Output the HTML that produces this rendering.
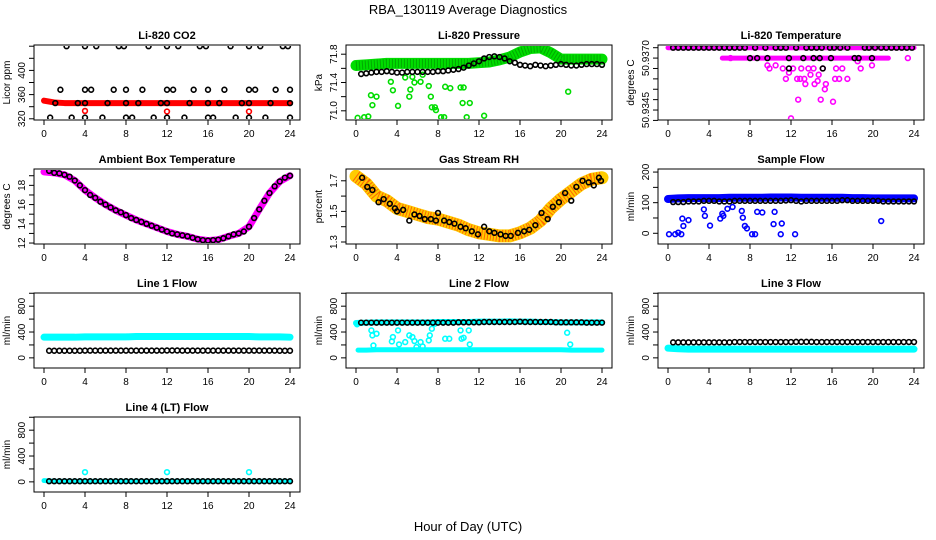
<!DOCTYPE html>
<html><head><meta charset="utf-8"><style>
body{margin:0;background:#fff;}
svg{display:block;font-family:"Liberation Sans",sans-serif;}
</style></head><body>
<svg id="chart" width="936" height="540" viewBox="0 0 936 540" xmlns="http://www.w3.org/2000/svg">
<text x="468" y="14" text-anchor="middle" font-size="13">RBA_130119  Average Diagnostics</text>
<text x="468" y="531" text-anchor="middle" font-size="13">Hour of Day (UTC)</text>
</svg>
<script>
// ---------- data ----------
const hours = [0,1,2,3,4,5,6,7,8,9,10,11,12,13,14,15,16,17,18,19,20,21,22,23,24];
const halfHours = [0.5,1,1.5,2,2.5,3,3.5,4,4.5,5,5.5,6,6.5,7,7.5,8,8.5,9,9.5,10,10.5,11,11.5,12,12.5,13,13.5,14,14.5,15,15.5,16,16.5,17,17.5,18,18.5,19,19.5,20,20.5,21,21.5,22,22.5,23,23.5,24];
// CO2
const co2Red = [350,347,346,346,346,346,346,346,346,346,346,346,346,346,346,346,346,346,346,346,346,346,346,346,346];
const co2RedOutX = [4,12,20];
const co2RedOutY = [333,332,332];
const co2BlackX = [2.2,4,5.1,7.3,7.8,10.2,12,13.1,15.2,15.8,18.2,20,21.1,23.3,23.8,
  1.6,4,4.6,6.8,8,9.6,12,12.6,14.6,16,17.6,20,20.6,22.6,24,
  1.1,3.3,4,6.2,8,9.2,11.4,12,14.2,16,17.1,19.3,20,22.1,24,
  0.6,2.7,4,5.7,8,8.6,10.7,12,13.7,16,16.5,18.7,20,21.6,24];
const co2BlackY = [440,440,440,440,440,440,440,440,440,440,440,440,440,440,440,
  368,368,368,368,368,368,368,368,368,368,368,368,368,368,368,
  346,346,346,346,346,346,346,346,346,346,346,346,346,346,346,
  322,322,322,322,322,322,322,322,322,322,322,322,322,322,322];
// Pressure
const presGreen = [71.64,71.65,71.66,71.67,71.67,71.67,71.67,71.67,71.67,71.67,71.67,71.67,71.68,71.69,71.72,71.76,71.83,71.88,71.89,71.82,71.73,71.73,71.73,71.73,71.73];
const presBlack = [71.52,71.53,71.54,71.55,71.55,71.56,71.55,71.54,71.54,71.55,71.55,71.55,71.55,71.55,71.55,71.56,71.56,71.57,71.58,71.59,71.61,71.64,71.67,71.70,71.74,71.76,71.77,71.76,71.74,71.70,71.68,71.65,71.64,71.63,71.65,71.64,71.63,71.64,71.65,71.66,71.65,71.64,71.64,71.65,71.66,71.66,71.66,71.65];
const presOutX = [0.16,0.8,1.2,1.46,1.6,2.0,3.4,3.6,4.1,4.8,5.2,5.3,5.5,5.7,6.3,6.5,7.1,7.3,7.4,7.7,7.8,8.3,8.6,8.7,9.2,10.2,10.5,10.4,10.8,11.1,12.5,20.7];
const presOutY = [70.90,70.91,70.92,71.22,71.08,71.2,71.41,71.29,71.07,71.47,71.2,71.3,71.48,71.4,71.41,71.51,71.35,71.2,71.05,71.05,71.01,70.91,70.91,71.34,71.32,71.33,71.33,71.11,70.91,71.11,70.93,71.27];
// Temperature
const tempTop = [50.9375,50.9375,50.9375,50.9375,50.9375,50.9375,50.9375,50.9375,50.9375,50.9375,50.9375,50.9375,50.9375,50.9375,50.9375,50.9375,50.9375,50.9375,50.9375,50.9375,50.9375,50.9375,50.9375,50.9375,50.9375];
const tempRow2X = [5.3,6,7,8,9,10,11,12,13,14,15,16,17,18,19,20,21,21.5];
const tempRow2Y = [50.9370,50.9370,50.9370,50.9370,50.9370,50.9370,50.9370,50.9370,50.9370,50.9370,50.9370,50.9370,50.9370,50.9370,50.9370,50.9370,50.9370,50.9370];
const tempPinkX = [23.4,6.1,9.7,10.5,9.9,11.2,12.2,13,13.7,14.2,15.1,16.4,17,18.8,19.9,18.5,11.5,12.6,13.3,13.9,14.7,16.3,16.7,17.5,12.9,13.4,14.3,14.6,15.4,11.8,15.3,12.7,14.9,16.1,12];
const tempPinkY = [50.9370,50.9370,50.93665,50.93665,50.9365,50.9365,50.9365,50.9365,50.9365,50.9365,50.9365,50.9365,50.9365,50.9365,50.93665,50.93685,50.9360,50.9360,50.9360,50.9362,50.9362,50.9360,50.9360,50.9360,50.9360,50.93575,50.93575,50.9359,50.93575,50.9363,50.9355,50.9350,50.9350,50.9349,50.9341];
const tempBlackX = [0.5,1,1.5,2,2.5,3,3.5,4,4.5,5,5.5,6,6.5,7,7.5,8.5,9.5,10.5,11,11.5,12.5,13.5,14,14.5,15,15.8,16.2,16.8,17.5,19.2,19.6,20.2,20.8,21.3,21.8,22.3,22.8,23.3,23.8,8,8.7,9.7,11.8,13.2,14.2,14.8,15.9,18.2,18.6,19.9,11.8,15.1];
const tempBlackY = [50.9375,50.9375,50.9375,50.9375,50.9375,50.9375,50.9375,50.9375,50.9375,50.9375,50.9375,50.9375,50.9375,50.9375,50.9375,50.9375,50.9375,50.9375,50.9375,50.9375,50.9375,50.9375,50.9375,50.9375,50.9375,50.9375,50.9375,50.9375,50.9375,50.9375,50.9375,50.9375,50.9375,50.9375,50.9375,50.9375,50.9375,50.9375,50.9375,50.9370,50.9370,50.9370,50.9370,50.9370,50.9370,50.9370,50.9370,50.9370,50.9370,50.9370,50.9365,50.9365];
// Ambient box temperature
const ambBand = [19.4,19.3,19.1,18.5,17.5,16.7,16.0,15.4,14.9,14.4,14.0,13.6,13.2,12.9,12.7,12.4,12.25,12.35,12.7,13.0,13.7,15.5,17.2,18.4,19.0];
const ambBlack = [19.5,19.3,19.25,19.1,18.9,18.5,18.0,17.5,17.0,16.7,16.3,16.0,15.7,15.4,15.2,14.9,14.6,14.4,14.2,14.0,13.8,13.6,13.4,13.2,13.0,12.9,12.8,12.7,12.55,12.4,12.3,12.25,12.3,12.35,12.5,12.7,12.9,13.0,13.2,13.7,14.6,15.5,16.4,17.2,17.9,18.4,18.8,19.0];
// Gas stream RH
const rhBand = [1.73,1.68,1.6,1.57,1.52,1.5,1.48,1.46,1.45,1.43,1.41,1.38,1.36,1.35,1.34,1.34,1.36,1.39,1.44,1.52,1.58,1.63,1.68,1.71,1.72];
const rhBlackX = [0.6,1.1,1.6,2.2,2.7,3.3,3.8,4,4.6,5.2,5.7,6.2,6.7,7.3,7.8,8,8.6,9.1,9.6,10.2,10.7,11.3,11.9,12.5,13,13.5,14.1,14.6,15.1,15.8,16.4,16.9,17.5,18.1,18.7,19.2,19.8,20.4,21,21.5,22.1,22.7,23.2,23.7,23.9];
const rhBlackY = [1.72,1.66,1.64,1.56,1.58,1.55,1.52,1.5,1.51,1.44,1.48,1.47,1.45,1.45,1.44,1.49,1.44,1.43,1.42,1.4,1.39,1.37,1.35,1.4,1.37,1.36,1.35,1.34,1.34,1.36,1.37,1.38,1.41,1.49,1.45,1.53,1.56,1.62,1.57,1.66,1.70,1.69,1.67,1.72,1.70];
// Sample flow
const sfBlue = [112,114,115,115,115,115,116,116,116,116,117,117,117,116,116,116,116,116,115,115,114,114,114,114,114];
const sfBlack = [102,102,102,104,104,104,106,106,106,104,104,104,106,106,106,106,106,106,106,106,106,106,107,108,106,104,106,106,106,106,106,106,106,108,108,106,106,106,106,106,106,104,104,104,104,104,104,104];
const sfOutX = [0.1,0.7,1.0,1.3,1.4,1.5,2.0,3.5,3.6,4.1,5.1,5.3,5.4,5.8,6.3,7.2,7.3,7.5,7.7,8.2,8.5,8.7,9.2,10.3,10.4,11.0,11.1,12.4,20.8];
const sfOutY = [-3,-3,2,-3,48,24,43,78,57,25,48,64,57,80,86,73,51,24,16,-3,-3,70,68,30,70,-3,32,-3,40];
// Line 1 flow
const l1Cyan = [320,320,320,320,325,325,325,325,325,330,330,330,330,330,330,330,330,330,330,330,330,325,325,325,320];
const l1Black = [110,110,110,110,110,110,110,112,112,112,112,112,112,112,112,112,112,112,112,112,112,112,112,114,114,114,112,112,112,112,112,112,112,112,112,112,112,112,112,112,112,112,112,112,112,110,110,110];
// Line 2 flow
const l2CyanHi = [540,545,550,550,550,550,550,550,555,555,555,555,560,560,560,565,560,560,555,555,550,550,550,550,550];
const l2CyanLoX = [0.2,1,2,3,4,5,6,7,8,9,10,11,12,13,14,15,16,17,18,19,20,21,22,23,24];
const l2CyanLoY = [120,120,125,125,125,125,125,125,125,125,125,125,125,125,125,125,125,125,125,125,125,120,120,120,120];
const l2Black = [545,545,545,545,545,545,545,545,545,545,545,545,545,545,545,545,545,545,545,550,550,550,550,550,555,555,555,555,555,555,555,560,555,555,555,555,555,555,550,550,550,550,550,550,545,545,545,545];
const l2OutX = [1.5,1.6,2.0,1.7,3.5,3.6,4.1,4.2,4.8,5.2,5.5,5.7,5.9,6.3,6.5,7.1,7.2,7.4,7.7,8.7,9.1,10.2,10.3,10.5,11.0,11.1,20.6,20.9,0.1];
const l2OutY = [425,348,374,192,254,322,425,208,244,348,322,260,166,244,176,270,348,451,530,296,296,425,296,311,425,208,389,208,520];
// Line 3 flow
const l3Cyan = [150,140,135,135,135,135,135,135,135,135,135,135,135,135,135,135,135,135,135,135,135,135,135,135,135];
const l3Black = [240,240,240,240,240,240,240,240,240,240,240,240,245,245,245,245,245,245,245,245,245,245,245,245,248,248,248,248,245,245,245,245,245,245,245,245,245,245,245,245,245,245,245,245,245,245,245,245];
// Line 4 flow
const l4Cyan = [20,10,10,10,10,10,10,10,10,10,10,10,10,10,10,10,10,10,10,10,10,10,10,10,10];
const l4Black = [10,10,10,10,10,10,10,10,10,10,10,10,10,10,10,10,10,10,10,10,10,10,10,10,10,10,10,10,10,10,10,10,10,10,10,10,10,10,10,10,10,10,10,10,10,10,10,10];
const l4OutX = [4,12,20];
const l4OutY = [150,150,150];
const xTicks = [0,4,8,12,16,20,24];

// ---------- drawing ----------
const NS = 'http://www.w3.org/2000/svg';
const svg = document.getElementById('chart');
const colL = [34,346,658], rowT = [45,169,293,417], PW = 266, PH = 75;
function mk(tag, attrs, parent){ const e = document.createElementNS(NS, tag); for (const k in attrs) e.setAttribute(k, attrs[k]); (parent||svg).appendChild(e); return e; }

function panel(name, c, r, ymin, ymax, ticks, labels, ylab, title){
  const L = colL[c], T = rowT[r];
  const g = mk('g', {});
  
  
  const sx = v => L + 10 + v * 246 / 24;
  const sy = v => T + PH - (v - ymin) / (ymax - ymin) * PH;
  const t = mk('text', {x: L + PW/2, y: T - 6, 'text-anchor':'middle', 'font-size':'11', 'font-weight':'bold'}, g);
  t.textContent = title;
  
  
  const box = mk('rect', {x:L, y:T, width:PW, height:PH, fill:'none', stroke:'#000', 'stroke-width':1}, g);
  
  
  const xa = mk('g', {}, g);
  
  
  mk('line', {x1:sx(0), x2:sx(24), y1:T+PH, y2:T+PH, stroke:'#000'}, xa);
  xTicks.forEach(v => {
    mk('line', {x1:sx(v), x2:sx(v), y1:T+PH, y2:T+PH+5, stroke:'#000'}, xa);
    const tl = mk('text', {x:sx(v), y:T+PH+17, 'text-anchor':'middle', 'font-size':'10'}, xa);
    tl.textContent = v;
  });
  const ya = mk('g', {}, g);
  
  
  ticks.forEach(v => { mk('line', {x1:L-5, x2:L, y1:sy(v), y2:sy(v), stroke:'#000'}, ya); });
  labels.forEach(v => {
    const y = sy(parseFloat(v));
    const tl = mk('text', {x:L-9, y:y, 'text-anchor':'middle', 'font-size':'10', transform:`rotate(-90 ${L-9} ${y})`}, ya);
    tl.textContent = v;
  });
  const yl = mk('text', {x:L-24, y:T+PH/2, 'text-anchor':'middle', 'font-size':'10', transform:`rotate(-90 ${L-24} ${T+PH/2})`}, g);
  yl.textContent = ylab;
  
  
  const clip = 'clip' + c + r;
  const cp = mk('clipPath', {id: clip}, g);
  mk('rect', {x:L+1, y:T+1, width:PW-2, height:PH-2}, cp);
  const data = mk('g', {'clip-path':`url(#${clip})`}, g);
  return {
    band(xs, ys, color, w, sname){
      const p = mk('polyline', {points: xs.map((x,i)=>sx(x)+','+sy(ys[i])).join(' '), fill:'none', stroke:color, 'stroke-width':w, 'stroke-linejoin':'round', 'stroke-linecap':'round'}, data);
      
      
      return p;
    },
    pts(xs, ys, color, sname){
      const pg = mk('g', {}, data);
      
      
      xs.forEach((x,i) => {
        const ci = mk('circle', {cx:sx(x), cy:sy(ys[i]), r:2.4, fill:'none', stroke:color, 'stroke-width':1.6}, pg);
        
        
      });
    }
  };
}

// CO2
let p = panel('co2', 0, 0, 318, 442, [320,340,360,380,400,420,440], ['320','360','400'], 'Licor ppm', 'Li-820 CO2');
p.band(hours, co2Red, '#ff0000', 6, 'co2-red-band');
p.pts(co2RedOutX, co2RedOutY, '#ff0000', 'co2-red-outliers');
p.pts(co2BlackX, co2BlackY, '#000', 'co2-black-series');

// Pressure
p = panel('pressure', 1, 0, 70.87, 71.93, [71.0,71.2,71.4,71.6,71.8], ['71.0','71.4','71.8'], 'kPa', 'Li-820 Pressure');
p.band(hours, presGreen, '#00dd00', 11, 'pressure-green-band');
const gd = p.band(hours, presGreen, '#007700', 9, 'pressure-green-texture');
gd.setAttribute('stroke-dasharray', '1 2');
gd.setAttribute('stroke-linecap', 'butt');
gd.setAttribute('opacity', '0.5');
p.pts(presOutX, presOutY, '#00dd00', 'pressure-green-outliers');
p.pts(halfHours, presBlack, '#000', 'pressure-black-series');

// Temperature
p = panel('temperature', 2, 0, 50.93402, 50.93763, [50.9340,50.9345,50.9350,50.9355,50.9360,50.9365,50.9370,50.9375], ['50.9345','50.9370'], 'degrees C', 'Li-820 Temperature');
p.band(hours, tempTop, '#ff00ff', 5, 'temperature-pink-top-band');
p.band(tempRow2X, tempRow2Y, '#ff00ff', 5, 'temperature-pink-second-band');
p.pts(tempPinkX, tempPinkY, '#ff00ff', 'temperature-pink-outliers');
p.pts(tempBlackX, tempBlackY, '#000', 'temperature-black-series');

// Ambient
p = panel('ambient', 0, 1, 11.9, 19.7, [12,13,14,15,16,17,18,19], ['12','14','16','18'], 'degrees C', 'Ambient Box Temperature');
p.band(hours, ambBand, '#ff00ff', 7, 'ambient-pink-band');
p.pts(halfHours, ambBlack, '#000', 'ambient-black-series');

// Gas stream RH
p = panel('gas-rh', 1, 1, 1.287, 1.777, [1.3,1.4,1.5,1.6,1.7], ['1.3','1.5','1.7'], 'percent', 'Gas Stream RH');
p.band(hours, rhBand, '#ffcc00', 13, 'rh-yellow-band');
const ob = p.band(hours, rhBand, '#ff6600', 12, 'rh-orange-texture');
ob.setAttribute('stroke-dasharray', '1 2');
ob.setAttribute('stroke-linecap', 'butt');
p.pts(rhBlackX, rhBlackY, '#000', 'rh-black-series');

// Sample flow
p = panel('sample-flow', 2, 1, -35, 210, [0,50,100,150,200], ['0','100','200'], 'ml/min', 'Sample Flow');
p.band(hours, sfBlue, '#0000ff', 8, 'sample-flow-blue-band');
p.pts(sfOutX, sfOutY, '#0000ff', 'sample-flow-blue-outliers');
p.pts(halfHours, sfBlack, '#000', 'sample-flow-black-series');

const lt = [0,200,400,600,800,1000], ll = ['0','400','800'];
// Line 1
p = panel('line1-flow', 0, 2, -157, 1004, lt, ll, 'ml/min', 'Line 1 Flow');
p.band(hours, l1Cyan, '#00ffff', 7, 'line1-cyan-band');
p.pts(halfHours, l1Black, '#000', 'line1-black-series');
// Line 2
p = panel('line2-flow', 1, 2, -157, 1004, lt, ll, 'ml/min', 'Line 2 Flow');
p.band(hours, l2CyanHi, '#00ffff', 6, 'line2-cyan-high-band');
p.band(l2CyanLoX, l2CyanLoY, '#00ffff', 5, 'line2-cyan-low-band');
p.pts(l2OutX, l2OutY, '#00ffff', 'line2-cyan-outliers');
p.pts(halfHours, l2Black, '#000', 'line2-black-series');
// Line 3
p = panel('line3-flow', 2, 2, -157, 1004, lt, ll, 'ml/min', 'Line 3 Flow');
p.band(hours, l3Cyan, '#00ffff', 7, 'line3-cyan-band');
p.pts(halfHours, l3Black, '#000', 'line3-black-series');
// Line 4
p = panel('line4-flow', 0, 3, -157, 1004, lt, ll, 'ml/min', 'Line 4 (LT) Flow');
p.band(hours, l4Cyan, '#00ffff', 5, 'line4-cyan-band');
p.pts(l4OutX, l4OutY, '#00ffff', 'line4-cyan-outliers');
p.pts(halfHours, l4Black, '#000', 'line4-black-series');
</script>
</body></html>
